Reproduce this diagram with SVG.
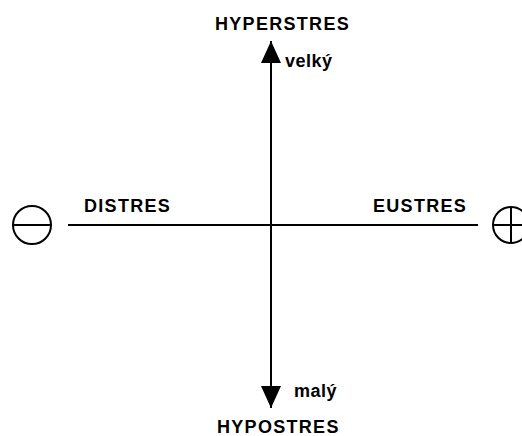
<svg xmlns="http://www.w3.org/2000/svg" width="522" height="436" viewBox="0 0 522 436">
<style>
.t{font-family:"Liberation Sans",Arial,sans-serif;font-weight:bold;font-size:18px;fill:#000;letter-spacing:1.3px}
.s{font-family:"Liberation Sans",Arial,sans-serif;font-weight:bold;font-size:18px;fill:#000;letter-spacing:0.5px}
.ln{stroke:#000;stroke-width:2;fill:none}
</style>
<defs>
<marker id="ah" markerWidth="22" markerHeight="20" refX="22" refY="10" orient="auto" markerUnits="userSpaceOnUse">
<path d="M0,0 L22,10 L0,20 Z" fill="#000"/>
</marker>
</defs>
<rect width="522" height="436" fill="#fff"/>
<g id="connectors">
<line class="ln" x1="68" y1="225" x2="478" y2="225"/>
<line class="ln" x1="271" y1="225" x2="271" y2="41" marker-end="url(#ah)"/>
<line class="ln" x1="271" y1="225" x2="271" y2="408" marker-end="url(#ah)"/>
</g>
<g id="minus">
<circle class="ln" cx="32" cy="225" r="19"/>
<line class="ln" x1="13" y1="225" x2="51" y2="225"/>
</g>
<g id="plus">
<circle class="ln" cx="511" cy="225" r="18"/>
<line class="ln" x1="493" y1="225" x2="529" y2="225"/>
<line class="ln" x1="511" y1="207" x2="511" y2="243"/>
</g>
<g id="hyperstres"><text class="t" x="215" y="30">HYPERSTRES</text></g>
<g id="velky"><text class="s" x="285" y="67">velký</text></g>
<g id="maly"><text class="s" x="294" y="397">malý</text></g>
<g id="hypostres"><text class="t" x="217" y="433">HYPOSTRES</text></g>
<g id="distres"><text class="t" x="84" y="212">DISTRES</text></g>
<g id="eustres"><text class="t" x="373" y="212">EUSTRES</text></g>
</svg>
